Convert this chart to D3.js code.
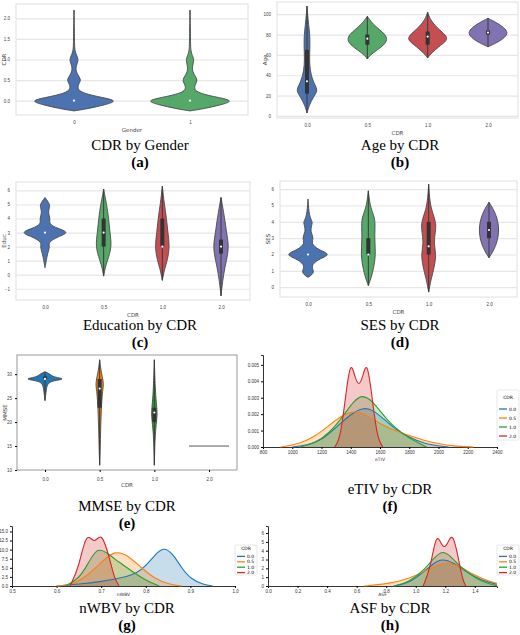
<!DOCTYPE html>
<html>
<head>
<meta charset="utf-8">
<script src="https://cdn.jsdelivr.net/npm/d3@7"></script>
<style>
  body { margin: 0; background: #fff; }
  svg { font-family: "DejaVu Sans", sans-serif; }
  .cap { font-family: "Liberation Serif", serif; font-size: 15px; fill: #000; }
  .tag { font-family: "Liberation Serif", serif; font-size: 15px; font-weight: bold; fill: #000; }
</style>
</head>
<body>
<svg id="chart" width="520" height="635"></svg>
<script>
// ---- data ----
const cdrCats = ['0.0', '0.5', '1.0', '2.0'];
const genderCats = ['0', '1'];
const deep = ['#4c72b0', '#55a868', '#c44e52', '#8172b2'];
const tab = ['#1f77b4', '#ff7f0e', '#2ca02c', '#d62728'];

// violin profiles: [value, relative half width]
const cdrByGender = [
  [[-0.25,0],[-0.2,0.3],[-0.1,0.7],[0,1],[0.1,0.5],[0.2,0.15],[0.3,0.08],[0.4,0.1],[0.5,0.16],[0.6,0.1],[0.7,0.05],[0.8,0.04],[0.9,0.07],[1.0,0.1],[1.1,0.06],[1.2,0.02],[1.4,0.01],[2.2,0.005]],
  [[-0.25,0],[-0.2,0.3],[-0.1,0.7],[0,1],[0.1,0.5],[0.2,0.15],[0.3,0.09],[0.4,0.12],[0.5,0.17],[0.6,0.11],[0.7,0.06],[0.8,0.05],[0.9,0.07],[1.0,0.09],[1.1,0.05],[1.2,0.02],[1.4,0.01],[2.2,0.005]]
];
const ageByCdr = [
  [[3,0],[10,0.1],[18,0.3],[25,0.55],[30,0.4],[40,0.2],[50,0.13],[60,0.13],[70,0.15],[80,0.14],[90,0.08],[100,0.03],[108,0]],
  [[56,0],[60,0.15],[65,0.5],[70,0.85],[75,1],[80,0.9],[85,0.6],[90,0.3],[95,0.1],[98,0]],
  [[57,0],[62,0.2],[68,0.55],[73,0.9],[77,1],[82,0.75],[88,0.4],[95,0.12],[102,0]],
  [[68,0],[72,0.45],[77,0.85],[82,1],[87,0.8],[92,0.4],[96,0]]
];
const ageBoxes = [[22,65,34],[70,80,76],[70,83,78],[80,84,82]];
const educByCdr = [
  [[0.5,0],[1,0.05],[1.5,0.1],[2,0.2],[2.3,0.12],[2.7,0.5],[3,1],[3.3,0.5],[3.6,0.15],[4,0.22],[4.4,0.12],[4.8,0.18],[5,0.2],[5.5,0]],
  [[-0.1,0],[0.5,0.06],[1,0.15],[2,0.33],[3,0.25],[4,0.2],[5,0.12],[5.5,0.06],[6.1,0]],
  [[-0.4,0],[0.5,0.1],[1,0.2],[2,0.3],[3,0.22],[4,0.17],[5,0.08],[6.3,0]],
  [[-1.5,0],[-0.5,0.06],[0.5,0.15],[1.5,0.28],[2.2,0.3],[3,0.22],[4,0.15],[5.5,0]]
];
const educBoxes = [null,[2,4,3],[2,4,2],[1.5,2.5,2]];
const sesByCdr = [
  [[0.6,0],[0.8,0.2],[1,0.25],[1.3,0.12],[1.7,0.4],[2,1],[2.3,0.4],[2.7,0.12],[3,0.25],[3.4,0.1],[3.8,0.15],[4,0.2],[4.3,0.05],[5.4,0]],
  [[0.1,0],[0.5,0.1],[1,0.2],[2,0.32],[3,0.25],[4,0.3],[4.5,0.2],[5,0.07],[5.9,0]],
  [[-0.3,0],[0.5,0.1],[1,0.2],[2,0.33],[2.7,0.2],[3.5,0.3],[4,0.3],[4.6,0.15],[5.2,0.05],[6.3,0]],
  [[1.8,0],[2.5,0.3],[3.5,0.45],[4.5,0.3],[5.2,0]]
];
const sesBoxes = [null,[2,3,2],[2,4,2.5],[3,4,3.5]];
const mmseByCdr = [
  [[24.5,0],[25.5,0.03],[27,0.06],[28,0.12],[28.6,0.3],[29,1],[29.4,0.35],[30,0.25],[30.5,0]],
  [[11,0],[15,0.03],[20,0.05],[25,0.1],[27,0.15],[28,0.18],[29.5,0.12],[31,0.05],[33,0]],
  [[11,0],[15,0.02],[18,0.05],[21,0.12],[22,0.13],[24,0.09],[27,0.04],[33,0]],
  []
];
const mmseBoxes = [[29,29.5,29],[23,29,27],[20,23,22],null];
const mmseFlat = 15;

// KDE curves: [x, density]
const etivKde = [
  [[1000,0],[1100,0.0001],[1200,0.0004],[1300,0.0012],[1400,0.002],[1480,0.0024],[1550,0.0023],[1650,0.0015],[1750,0.0008],[1850,0.0004],[1950,0.0001],[2070,0]],
  [[920,0],[1050,0.0002],[1150,0.0006],[1250,0.0013],[1350,0.002],[1430,0.0022],[1500,0.002],[1600,0.0014],[1700,0.001],[1800,0.0007],[1900,0.0004],[2000,0.0002],[2100,0.00005],[2240,0]],
  [[1050,0],[1150,0.0002],[1250,0.0008],[1350,0.0019],[1420,0.0028],[1480,0.0032],[1550,0.0028],[1650,0.0016],[1750,0.0008],[1850,0.0003],[1920,0]],
  [[1290,0],[1330,0.0005],[1370,0.0035],[1400,0.0053],[1430,0.0042],[1455,0.0037],[1480,0.0042],[1510,0.0053],[1540,0.0035],[1580,0.0005],[1620,0]]
];
const nwbvKde = [
  [[0.6,0],[0.65,0.5],[0.7,1.2],[0.75,2.3],[0.78,3.5],[0.8,5.5],[0.82,8.5],[0.84,10.8],[0.86,9],[0.88,5],[0.9,2],[0.93,0.3],[0.95,0]],
  [[0.6,0],[0.64,0.5],[0.67,3],[0.7,6.5],[0.73,9.8],[0.76,8.5],[0.79,5],[0.82,2],[0.85,0.5],[0.88,0]],
  [[0.62,0],[0.65,2],[0.67,6],[0.69,10.5],[0.71,9.5],[0.74,6.5],[0.77,4],[0.8,1.5],[0.83,0]],
  [[0.63,0],[0.65,5],[0.667,15.5],[0.685,11],[0.7,15.5],[0.72,7],[0.73,2],[0.74,0]]
];
const asfKde = [
  [[0.85,0],[0.95,0.3],[1.05,1.5],[1.12,2.6],[1.18,3.1],[1.25,2.7],[1.35,1.5],[1.45,0.6],[1.55,0.2]],
  [[0.65,0],[0.8,0.2],[0.95,0.8],[1.05,1.6],[1.15,2.4],[1.22,2.7],[1.3,2.2],[1.4,1.2],[1.5,0.5],[1.55,0.3]],
  [[0.85,0],[0.95,0.4],[1.05,1.7],[1.13,3.3],[1.18,4],[1.23,3.5],[1.3,2.2],[1.4,0.9],[1.5,0.2],[1.55,0.05]],
  [[1.05,0],[1.1,2],[1.14,6.3],[1.18,4.3],[1.21,4.5],[1.25,6.3],[1.29,3],[1.32,0.5],[1.34,0]]
];

const svg = d3.select('#chart');

function caption(cx, y, title, tag) {
  svg.append('text').attr('class', 'cap').attr('x', cx).attr('y', y).attr('text-anchor', 'middle').text(title);
  svg.append('text').attr('class', 'tag').attr('x', cx).attr('y', y + 17).attr('text-anchor', 'middle').text(tag);
}

function violinPanel(c) {
  const g = svg.append('g');
  const x = d3.scalePoint().domain(c.cats).range([c.x0 + c.pad, c.x1 - c.pad]);
  const y = d3.scaleLinear().domain(c.yDom).range([c.y1, c.y0]);
  const seaborn = c.style === 'seaborn';
  g.append('rect').attr('x', c.x0).attr('y', c.y0).attr('width', c.x1 - c.x0).attr('height', c.y1 - c.y0)
    .attr('fill', '#fff').attr('stroke', seaborn ? '#e4e4e4' : '#999').attr('stroke-width', seaborn ? 1.2 : 1);
  if (seaborn) {
    g.append('g').attr('transform', `translate(${c.x0},0)`)
      .call(d3.axisLeft(y).tickValues(c.ticks).tickSize(-(c.x1 - c.x0)).tickFormat(''))
      .call(s => s.select('.domain').remove())
      .selectAll('line').attr('stroke', '#e6e6e6').attr('stroke-width', 1.2);
  }
  const yAx = g.append('g').attr('transform', `translate(${c.x0},0)`)
    .call(d3.axisLeft(y).tickValues(c.ticks).tickSize(seaborn ? 0 : 2).tickPadding(seaborn ? 6 : 3).tickFormat(c.fmt));
  yAx.select('.domain').remove();
  yAx.selectAll('text').attr('font-size', 4.5).attr('fill', '#444').text(d => c.fmt(d).replace('-', '\u2212'));
  const xAx = g.append('g').attr('transform', `translate(0,${c.y1})`)
    .call(d3.axisBottom(x).tickSize(seaborn ? 0 : 2).tickPadding(6));
  xAx.select('.domain').remove();
  xAx.selectAll('text').attr('font-size', 4.5).attr('fill', '#444');
  g.append('text').attr('x', (c.x0 + c.x1) / 2).attr('y', c.y1 + 17).attr('text-anchor', 'middle')
    .attr('font-size', 5.5).attr('fill', '#444').text(c.xLabel);
  g.append('text').attr('transform', `translate(${c.x0 - 10},${(c.y0 + c.y1) / 2}) rotate(-90)`)
    .attr('text-anchor', 'middle').attr('font-size', 5.5).attr('fill', '#444').text(c.yLabel);

  c.data.forEach((prof, i) => {
    const cx = x(c.cats[i]);
    if (prof.length) {
      const area = d3.area().curve(d3.curveBasis)
        .y(d => y(d[0])).x0(d => cx - d[1] * c.w).x1(d => cx + d[1] * c.w);
      g.append('path').datum(prof).attr('d', area).attr('fill', c.colors[i])
        .attr('stroke', '#4a4a4a').attr('stroke-width', 0.9);
    }
    const b = c.boxes ? c.boxes[i] : null;
    if (b) {
      const top = prof.length ? prof[prof.length - 1][0] : b[1];
      const bot = prof.length ? prof[0][0] : b[0];
      g.append('line').attr('x1', cx).attr('x2', cx).attr('y1', y(top)).attr('y2', y(bot))
        .attr('stroke', '#3a3a3a').attr('stroke-width', 1);
      g.append('rect').attr('x', cx - 2).attr('width', 4).attr('y', y(b[1])).attr('height', Math.max(1, y(b[0]) - y(b[1])))
        .attr('fill', '#333');
      g.append('circle').attr('cx', cx).attr('cy', y(b[2])).attr('r', 1.1).attr('fill', '#fff');
    } else if (prof.length && c.medians) {
      g.append('circle').attr('cx', cx).attr('cy', y(c.medians[i])).attr('r', 1.1).attr('fill', '#fff');
    }
  });
  return { g, x, y };
}

function kdePanel(c) {
  const g = svg.append('g');
  const x = d3.scaleLinear().domain(c.xDom).range([c.x0, c.x1]);
  const y = d3.scaleLinear().domain(c.yDom).range([c.y1, c.y0]);
  const xAx = g.append('g').attr('transform', `translate(0,${c.y1})`)
    .call(d3.axisBottom(x).tickValues(c.xTicks).tickSize(2).tickPadding(2).tickFormat(c.xFmt));
  xAx.select('.domain').attr('stroke', '#333');
  xAx.selectAll('text').attr('font-size', 4.5).attr('fill', '#333');
  const yAx = g.append('g').attr('transform', `translate(${c.x0},0)`)
    .call(d3.axisLeft(y).tickValues(c.yTicks).tickSize(2).tickPadding(2).tickFormat(c.yFmt));
  yAx.select('.domain').attr('stroke', '#333');
  yAx.selectAll('text').attr('font-size', 4.5).attr('fill', '#333');
  const area = d3.area().curve(d3.curveBasis).x(d => x(d[0])).y0(y(0)).y1(d => y(d[1]));
  const line = d3.line().curve(d3.curveBasis).x(d => x(d[0])).y(d => y(d[1]));
  c.data.forEach((s, i) => {
    g.append('path').datum(s).attr('d', area).attr('fill', tab[i]).attr('fill-opacity', 0.25);
  });
  c.data.forEach((s, i) => {
    g.append('path').datum(s).attr('d', line).attr('fill', 'none').attr('stroke', tab[i]).attr('stroke-width', 1.1);
  });
  if (c.xLabel) {
    g.append('text').attr('x', (c.x0 + c.x1) / 2).attr('y', c.y1 + c.labOff).attr('text-anchor', 'middle')
      .attr('font-size', 4.5).attr('fill', '#333').text(c.xLabel);
  }
  // legend
  const lg = g.append('g').attr('transform', `translate(${c.lx},${c.ly})`);
  lg.append('rect').attr('width', 22).attr('height', c.lh).attr('fill', '#fff').attr('stroke', '#ccc').attr('stroke-width', 0.5).attr('rx', 1.5);
  lg.append('text').attr('x', 11).attr('y', c.lh * 0.18).attr('text-anchor', 'middle').attr('font-size', 4.5).text('CDR');
  cdrCats.forEach((k, i) => {
    const yy = c.lh * (0.38 + i * 0.18);
    lg.append('line').attr('x1', 2).attr('x2', 10).attr('y1', yy).attr('y2', yy).attr('stroke', tab[i]).attr('stroke-width', 1.3);
    lg.append('text').attr('x', 12).attr('y', yy + 1.5).attr('font-size', 4.5).text(k);
  });
  return { g, x, y };
}

// (a)
violinPanel({ x0: 16, x1: 248, y0: 4, y1: 115, pad: 58, w: 45, cats: genderCats, data: cdrByGender,
  colors: [deep[0], deep[1]], yDom: [-0.35, 2.35], ticks: [0, 0.5, 1, 1.5, 2], fmt: d3.format('.1f'),
  medians: [0, 0], style: 'seaborn', xLabel: 'Gender', yLabel: 'CDR' });
caption(140, 150, 'CDR by Gender', '(a)');

// (b)
violinPanel({ x0: 277, x1: 518, y0: 2, y1: 118, pad: 30, w: 20, cats: cdrCats, data: ageByCdr, boxes: ageBoxes,
  colors: deep, yDom: [-2, 112], ticks: [0, 20, 40, 60, 80, 100], fmt: d3.format('d'),
  style: 'seaborn', xLabel: 'CDR', yLabel: 'Age' });
caption(400, 150, 'Age by CDR', '(b)');

// (c)
violinPanel({ x0: 16, x1: 250, y0: 182, y1: 300, pad: 29, w: 25, cats: cdrCats, data: educByCdr, boxes: educBoxes,
  medians: [3, 3, 2, 2], colors: deep, yDom: [-1.8, 6.6], ticks: [-1, 0, 1, 2, 3, 4, 5, 6], fmt: d3.format('d'),
  style: 'seaborn', xLabel: 'CDR', yLabel: 'Educ' });
caption(140, 330, 'Education by CDR', '(c)');

// (d)
violinPanel({ x0: 280, x1: 517, y0: 181, y1: 297, pad: 28, w: 24, cats: cdrCats, data: sesByCdr, boxes: sesBoxes,
  medians: [2, 2, 2.5, 3.5], colors: deep, yDom: [-0.6, 6.5], ticks: [0, 1, 2, 3, 4, 5, 6], fmt: d3.format('d'),
  style: 'seaborn', xLabel: 'CDR', yLabel: 'SES' });
caption(400, 330, 'SES by CDR', '(d)');

// (e)
const e = violinPanel({ x0: 17, x1: 237, y0: 355, y1: 470, pad: 28, w: 22, cats: cdrCats, data: mmseByCdr, boxes: mmseBoxes,
  colors: tab, yDom: [10, 34], ticks: [10, 15, 20, 25, 30], fmt: d3.format('d'),
  style: 'mpl', xLabel: 'CDR', yLabel: 'MMSE' });
e.g.append('line').attr('x1', e.x('2.0') - 20).attr('x2', e.x('2.0') + 20)
  .attr('y1', e.y(mmseFlat)).attr('y2', e.y(mmseFlat)).attr('stroke', '#555').attr('stroke-width', 1);
caption(127, 511, 'MMSE by CDR', '(e)');

// (f)
kdePanel({ x0: 263, x1: 497, y0: 355, y1: 447, xDom: [800, 2400], yDom: [0, 0.0056],
  xTicks: d3.range(800, 2401, 200), xFmt: d3.format('d'), yTicks: [0, 0.001, 0.002, 0.003, 0.004, 0.005], yFmt: d3.format('.3f'),
  data: etivKde, xLabel: 'eTIV', labOff: 14, lx: 497, ly: 390, lh: 50 });
caption(390, 494, 'eTIV by CDR', '(f)');

// (g)
kdePanel({ x0: 12, x1: 235, y0: 526, y1: 586, xDom: [0.5, 1.0], yDom: [0, 16.5],
  xTicks: d3.range(0.5, 1.01, 0.1), xFmt: d3.format('.1f'), yTicks: [0, 2.5, 5, 7.5, 10, 12.5, 15], yFmt: d3.format('.1f'),
  data: nwbvKde, xLabel: 'nWBV', labOff: 10, lx: 235, ly: 545, lh: 30 });
caption(127, 613, 'nWBV by CDR', '(g)');

// (h)
kdePanel({ x0: 268, x1: 497, y0: 526, y1: 586, xDom: [0, 1.55], yDom: [0, 6.8],
  xTicks: d3.range(0, 1.41, 0.2), xFmt: d3.format('.1f'), yTicks: [0, 1, 2, 3, 4, 5, 6], yFmt: d3.format('d'),
  data: asfKde, xLabel: 'ASF', labOff: 10, lx: 497, ly: 545, lh: 30 });
caption(390, 613, 'ASF by CDR', '(h)');
</script>
</body>
</html>
